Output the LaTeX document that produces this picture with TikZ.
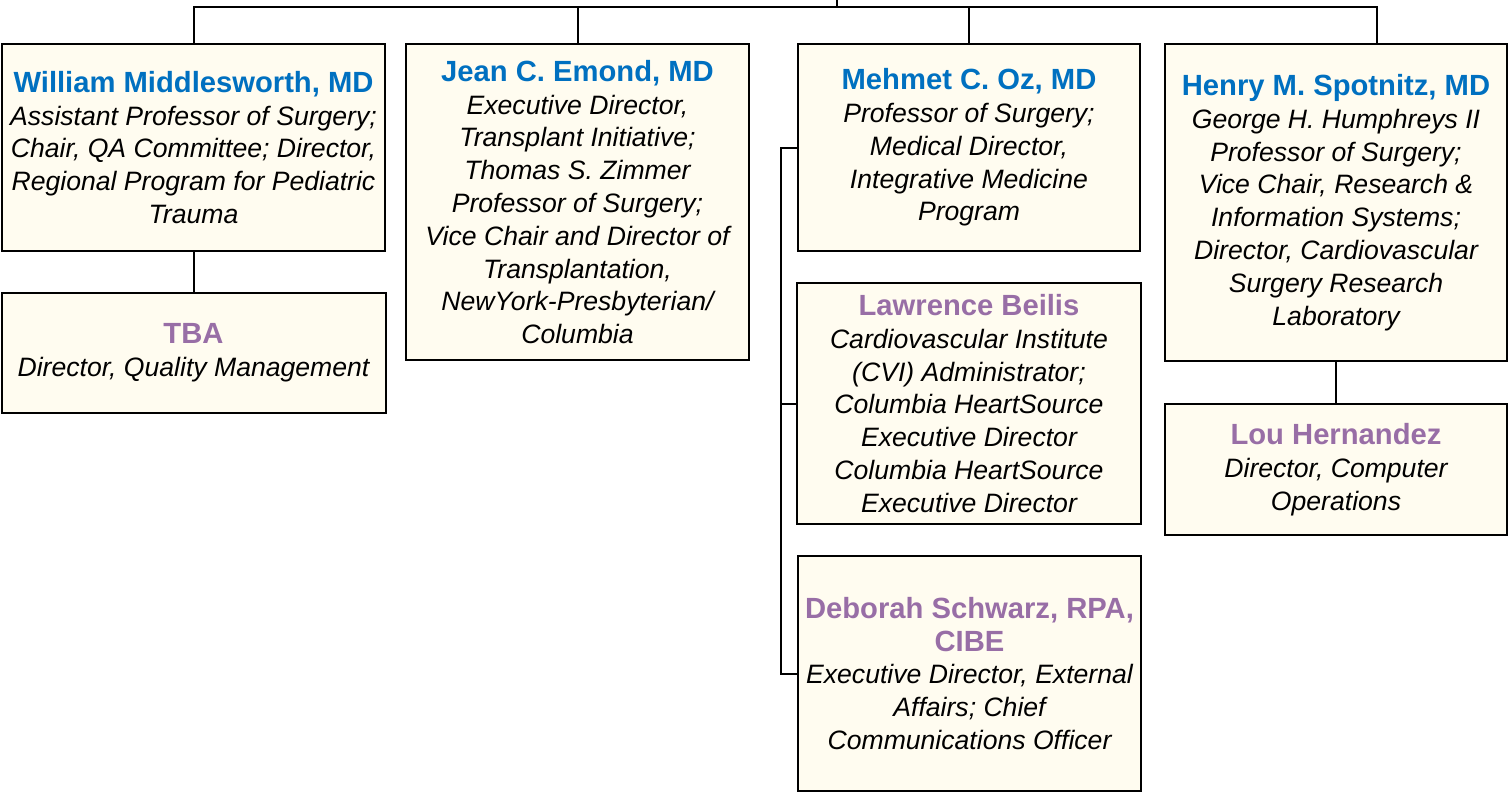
\documentclass[tikz,border=0pt]{standalone}
\usepackage{fontspec}
\setmainfont{Liberation Sans}
\definecolor{chiefblue}{RGB}{0,112,192}
\definecolor{staffpurple}{RGB}{152,110,166}
\definecolor{boxcream}{RGB}{255,252,240}
\newcommand{\chief}[1]{{\color{chiefblue}\upshape\bfseries\fontsize{14.6}{16.4}\selectfont #1}}
\newcommand{\staff}[1]{{\color{staffpurple}\upshape\bfseries\fontsize{14.6}{16.4}\selectfont #1}}
\begin{document}
\begin{tikzpicture}[x=0.5pt,y=-0.5pt]
		\tikzstyle{post}=[draw,fill=boxcream,line width=1pt,inner sep=0pt,align=center,font=\fontsize{13.3}{16.4}\selectfont\itshape]
		\tikzstyle{link}=[line width=1pt]
		\useasboundingbox (0,0) rectangle (1511,793);

		\node[post,minimum width=191.5pt,minimum height=103.5pt] (william) at (193.5,147.5) {\chief{William Middlesworth, MD}\\Assistant Professor of Surgery;\\Chair, QA Committee; Director,\\Regional Program for Pediatric\\Trauma};
		\node[post,minimum width=192pt,minimum height=60pt] (tba) at (193.5,353) {\staff{TBA}\\Director, Quality Management};
		\node[post,minimum width=171.5pt,minimum height=158pt] (jean) at (577.5,202) {\chief{Jean C. Emond, MD}\\Executive Director,\\Transplant Initiative;\\Thomas S. Zimmer\\Professor of Surgery;\\Vice Chair and Director of\\Transplantation,\\NewYork-Presbyterian/\\Columbia};
		\node[post,minimum width=171pt,minimum height=103.5pt] (mehmet) at (969,147.5) {\chief{Mehmet C. Oz, MD}\\Professor of Surgery;\\Medical Director,\\Integrative Medicine\\Program};
		\node[post,minimum width=172pt,minimum height=120.5pt] (lawrence) at (969,403.5) {\staff{Lawrence Beilis}\\Cardiovascular Institute\\(CVI) Administrator;\\Columbia HeartSource\\Executive Director\\Columbia HeartSource\\Executive Director};
		\node[post,minimum width=171.5pt,minimum height=117.5pt] (deborah) at (969.5,673.5) {\staff{Deborah Schwarz, RPA,}\\\staff{CIBE}\\Executive Director, External\\Affairs; Chief\\Communications Officer};
		\node[post,minimum width=171pt,minimum height=158.5pt] (henry) at (1336,202.5) {\chief{Henry M. Spotnitz, MD}\\George H. Humphreys II\\Professor of Surgery;\\Vice Chair, Research \&\\Information Systems;\\Director, Cardiovascular\\Surgery Research\\Laboratory};
		\node[post,minimum width=171pt,minimum height=65.5pt] (lou) at (1336,469.5) {\staff{Lou Hernandez}\\Director, Computer\\Operations};

		\coordinate (top) at (837,0);
		\coordinate (bus) at (837,7);
		\draw[link] (top) -- (bus);
		\draw[link] (william.north) |- (bus) -| ([xshift=20.5pt]henry.north);
		\foreach \n in {jean,mehmet} { \draw[link] (\n.north) -- (\n.north |- bus);}
		\draw[link] (william) -- (tba);
		\draw[link] (henry) -- (lou);
		\draw[link] (mehmet.west) -- ++(-16,0) |- (deborah.west);
		\draw[link] (lawrence.west) -- ++(-16,0);
	\end{tikzpicture}
\end{document}
